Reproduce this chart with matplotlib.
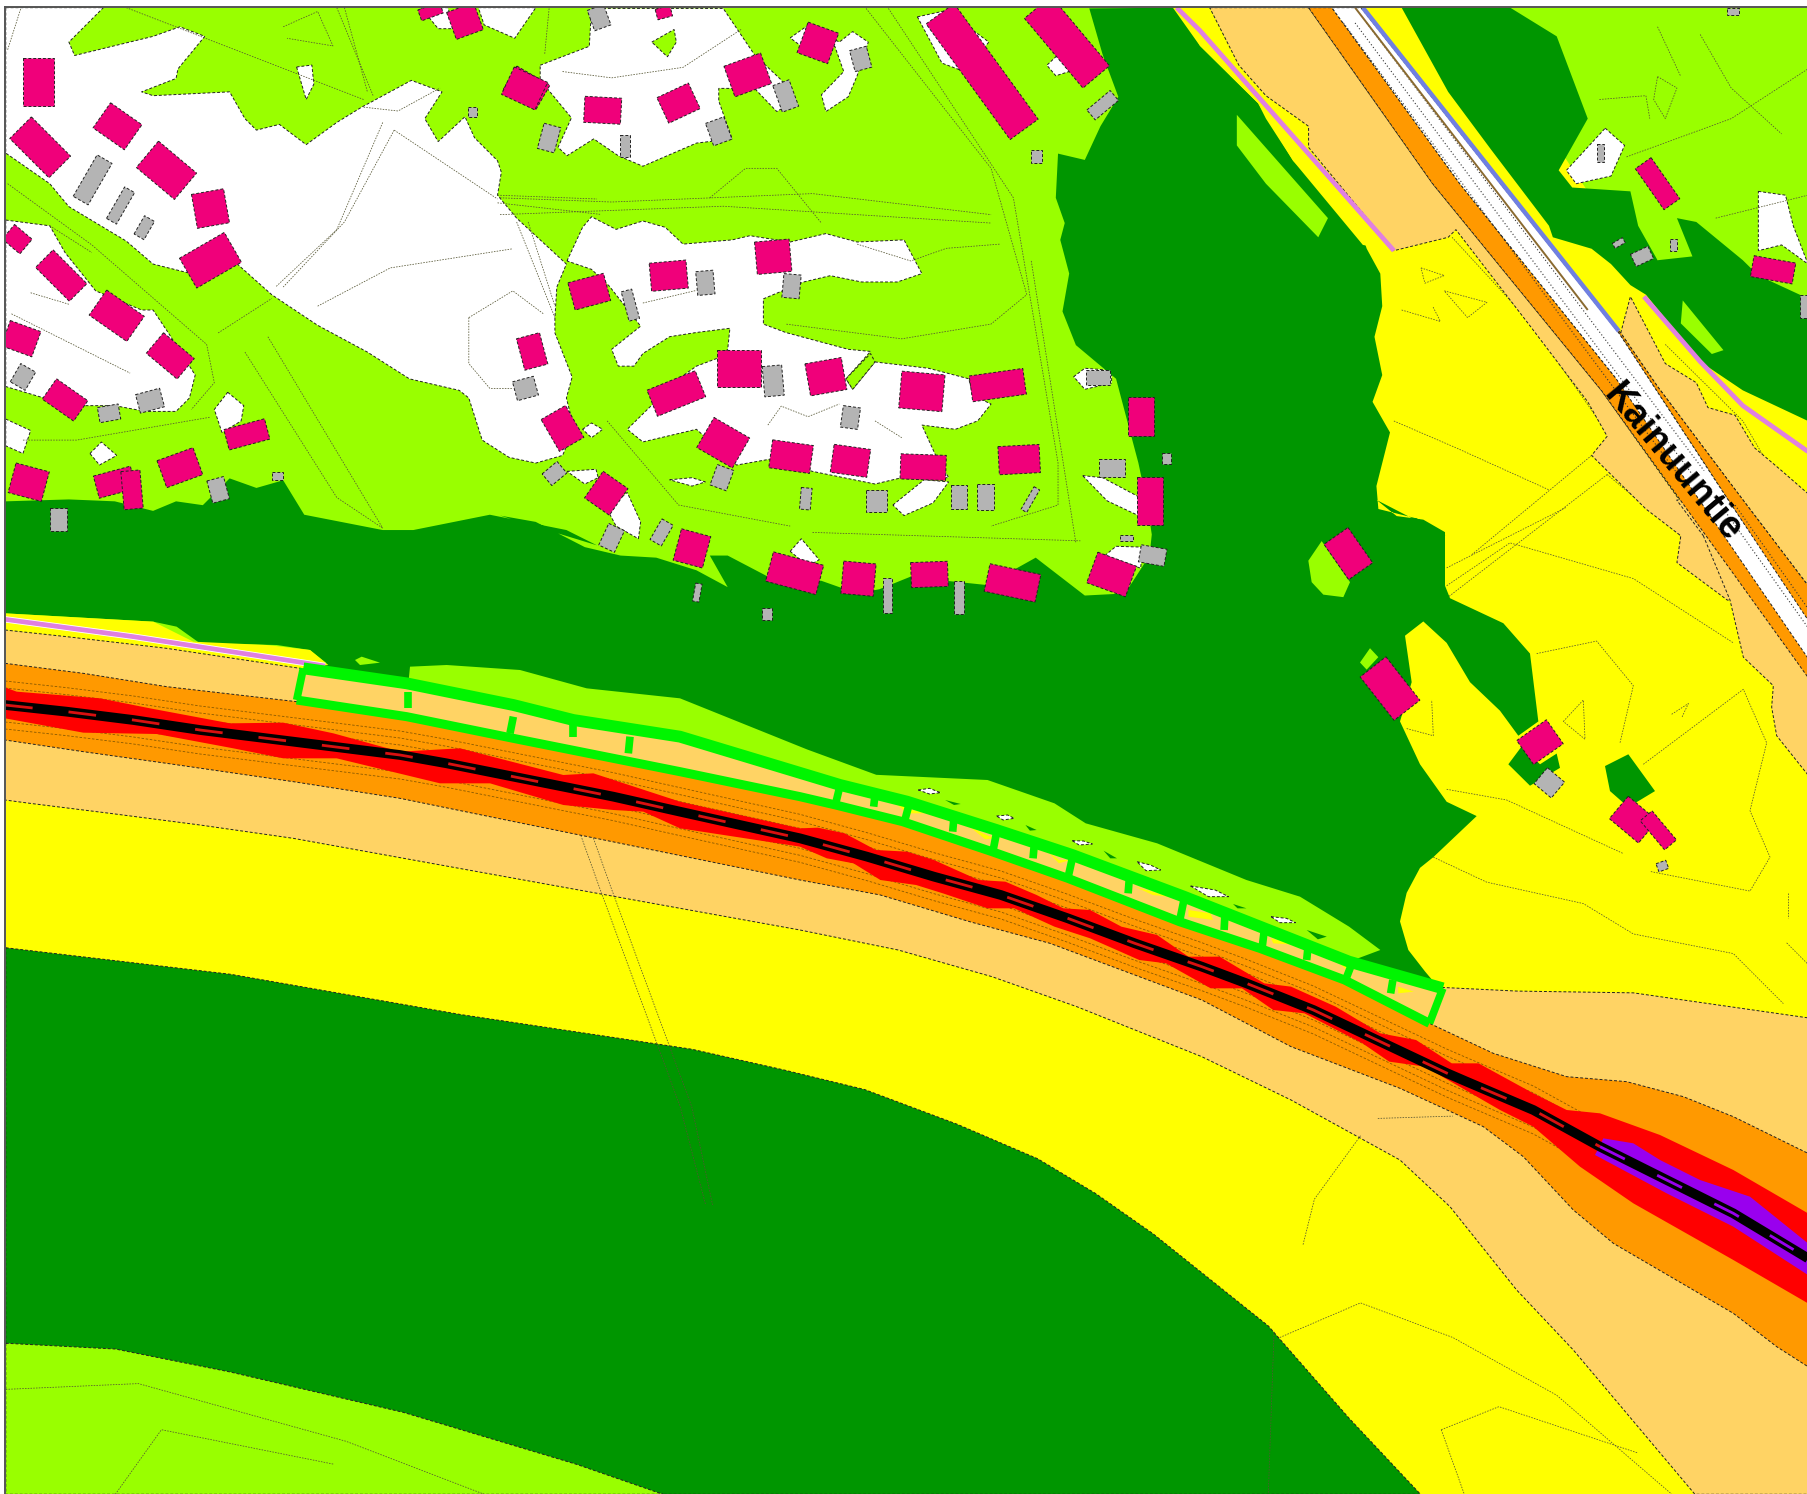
import numpy as np
import matplotlib
matplotlib.use("Agg")
import matplotlib.pyplot as plt
from matplotlib.patches import Polygon

# ---- colour classes of the noise map
DG, LG, YEL, SAND, ORA, RED, PUR = '#009600', '#99FF00', '#FFFF00', '#FFD364', '#FF9900', '#FF0000', '#9900EE'
HOUSE, SHED, BARRIER = '#F0007A', '#B4B4B4', '#00F500'
ROAD_LABEL = 'Kainuuntie'

# ---- read-off frames: (x0, y0, kx, ky)
F1 = (0, 0, 2.613, 2.613)
F2 = (1200, 0, 2.579, 2.613)
F3 = (1400, 950, 3, 3)
F4 = (280, 640, 3, 3)
F5 = (500, 0, 2.24, 2.376)
F6 = (1300, 500, 3, 2.8)
F7 = (0, 580, 3, 3)
F8 = (800, 780, 2.24, 3)
F0 = (0, 0, 1/1.153, 1/1.153)

def c(f, pts):
    return [(f[0] + x / f[2], f[1] + y / f[3]) for x, y in pts]

# ---- whites (unshaded ground)
WHITE_F1 = [
    [(15,20),(270,20),(180,110),(195,145),(400,95),(470,70),(535,95),(465,180),(460,205),(370,240),(400,250),(600,240),(640,310),(670,340),(730,325),(800,378),(880,320),(945,280),(1075,210),(1155,240),(1110,310),(1145,370),(1215,305),(1240,360),(1300,420),(1310,450),(1300,510),(1350,570),(1480,690),(1455,750),(1450,830),(1450,870),(1495,985),(1480,1040),(1500,1120),(1470,1190),(1400,1210),(1330,1195),(1260,1150),(1225,1040),(1200,1020),(1070,990),(960,920),(830,850),(710,770),(620,690),(520,720),(400,690),(330,630),(180,540),(130,480),(15,400)],
    [(15,575),(130,590),(170,660),(250,760),(370,810),(400,810),(440,870),(510,980),(495,1040),(460,1075),(380,1075),(300,1060),(220,1060),(115,1040),(15,1010)],
    [(15,1095),(80,1125),(60,1185),(15,1165)],
    [(595,1025),(637,1060),(630,1100),(580,1130),(560,1070)],
    [(235,1185),(265,1155),(305,1190),(260,1215)],
    [(1100,20),(1170,20),(1190,75),(1145,75)],
    [(1250,20),(1400,20),(1345,100),(1265,65)],
]
WHITE_HOLE_F1 = [[(775,175),(815,170),(820,220),(800,260)]]
WHITE_F5 = [
    [(90,155),(200,110),(205,20),(500,20),(570,130),(630,190),(660,240),(620,265),(570,210),(490,210),(490,240),(520,330),(440,340),(320,395),(265,370),(210,330),(150,370),(130,350),(160,280),(90,190)],
    [(650,90),(690,60),(760,100),(790,75),(825,100),(800,180),(780,230),(730,265),(720,225),(770,170),(750,110),(700,130)],
    [(935,40),(1000,25),(1095,100),(1040,170),(990,150)],
    [(1250,130),(1275,170),(1245,180),(1225,155)],
    [(150,620),(185,540),(205,515),(260,545),(320,525),(370,540),(410,580),(520,570),(560,560),(650,575),(730,555),(800,575),(905,570),(945,650),(890,670),(810,670),(740,655),(680,670),(590,710),(590,770),(640,790),(780,830),(830,835),(775,900),(790,925),(840,860),(960,875),(1050,900),(1060,940),(1100,960),(1070,1000),(1020,1020),(945,1010),(975,1080),(1005,1135),(900,1135),(840,1150),(700,1120),(610,1090),(530,1105),(440,1020),(320,1050),(285,1020),(400,900),(440,870),(490,850),(510,830),(515,780),(440,790),(380,800),(320,840),(300,870),(265,870),(250,830),(315,775),(245,680),(205,640)],
    [(1285,895),(1310,875),(1370,880),(1370,910),(1310,925)],
    [(1305,1130),(1350,1135),(1430,1180),(1430,1225),(1360,1190)],
    [(150,1120),(215,1115),(220,1135),(190,1150)],
    [(380,1140),(430,1135),(460,1145),(430,1155)],
    [(880,1200),(950,1140),(1005,1145),(970,1195),(905,1225)],
    [(240,1210),(285,1170),(315,1240),(310,1280),(260,1250)],
    [(650,1310),(675,1280),(715,1330),(690,1345)],
    [(1355,1320),(1380,1298),(1440,1300),(1435,1350)],
    [(185,1020),(205,1005),(230,1020),(205,1040)],
]
LG_ISLET_F5 = [[(340,100),(390,70),(395,100),(375,135)], [(775,900),(830,840),(840,860),(790,925)]]
WHITE_F2 = [
    [(1045,335),(1095,380),(1060,460),(970,480),(945,445)],
    [(1440,500),(1510,510),(1530,590),(1568,690),(1500,640),(1440,655),(1440,590)],
]

# ---- main dark-green (55-60 dB) forest block, walked clockwise
DG_N_F1 = [(15,1310),(180,1305),(300,1310),(400,1335),(460,1310),(530,1320),(600,1250),(670,1275),(740,1255),(795,1345),(1000,1385),(1080,1385),(1280,1345),(1480,1385),(1560,1425)]
DG_N_F5 = [(0,1225),(80,1240),(190,1300),(270,1320),(350,1325),(440,1355),(510,1395),(470,1320),(510,1320),(600,1370),(720,1380),(800,1410),(850,1400),(920,1370),(1000,1380),(1090,1390),(1200,1325),(1310,1415),(1400,1410),(1455,1320),(1460,1270),(1450,1200),(1430,1100),(1380,900),(1290,820),(1260,740),(1275,650),(1255,570),(1265,530),(1245,470),(1250,365),(1310,380),(1345,300),(1385,230),(1350,130),(1320,20)]
DG_E_F2 = [(-55,20),(0,120),(150,270),(170,310),(240,420),(410,590),(430,650),(465,715),(470,800),(450,880),(470,980),(445,1050),(490,1130),(455,1270),(460,1330),(560,1355),(635,1400)]
DG_E_F6 = [(230,0),(290,45),(370,55),(435,90),(435,240),(450,275),(610,345),(690,430),(715,620),(655,660),(600,590),(510,510),(440,400),(370,340),(315,380),(335,510),(300,620),(360,740),(440,845),(530,885),(400,1000),(360,1030),(320,1100),(300,1180),(325,1260),(375,1320),(420,1370)]
DG_S_F8 = [(1230,545),(1040,445),(860,350),(610,225),(240,65),(90,15)]
DG_S_F4 = [(1200,290),(880,240),(380,130)]
DG_S_F7 = [(905,265),(980,250),(930,210),(830,195),(600,190),(530,140),(460,125),(15,100)]

# ---- north-east corner
LG_NE_F2 = [(770,20),(1568,20),(1568,800),(1300,800),(1000,500),(800,200)]
DG_NE_F2 = [(520,20),(640,240),(750,390),(900,590),(910,620),(1010,650),(1060,690),(1110,745),(1150,770),(1290,945),(1400,1020),(1568,1100),(1568,780),(1440,720),(1400,680),(1280,580),(1230,570),(1270,670),(1180,680),(1130,590),(1110,500),(960,490),(925,445),(1000,310),(920,95),(800,20)]
LG_INSET_F2 = [
    [(95,300),(330,570),(305,620),(170,480),(95,380)],
    [(1245,785),(1350,915),(1320,925),(1240,845)],
]
SAND_NW_F2 = [(25,20),(280,20),(600,480),(1035,1020),(1420,1568),(1360,1568),(1230,1470),(1240,1400),(1150,1330),(1010,1190),(1050,1140),(1000,1050),(850,850),(660,600),(640,620),(500,655),(280,385),(280,330),(170,250),(100,170)]
SAND_W_F6 = [(1210,100),(1290,280),(1330,440),(1420,520),(1415,580),(1430,660),(1524,770),(1540,300),(1300,0),(1130,0)]
ORANGE_W_F2 = [(280,20),(340,20),(670,480),(1070,985),(1362,1306),(1962,2165),(1895,2230),(1035,1020),(600,480)]
WHITE_ROAD_F2 = [(340,20),(415,20),(947,700),(1080,870),(1362,1306),(1568,1620),(1568,1720),(1070,985),(670,480)]
ORANGE_E_F2 = [(940,720),(1085,870),(1180,1010),(1400,1306),(1568,1530),(1568,1630),(1362,1306),(1080,870)]
SAND_E_F2 = [(1085,870),(1110,775),(1200,950),(1280,1000),(1310,1065),(1380,1085),(1430,1170),(1500,1230),(1568,1290),(1568,1530),(1400,1306),(1180,1010)]
BLUE_LINE_F2 = [(420,20),(1080,865)]
BROWN_LINE_F2 = [(400,20),(1000,810)]
PINK_NE_F2 = [(1145,775),(1290,945),(1400,1060),(1568,1180)]
PINK_N_F2 = [(-60,20),(0,80),(500,655)]
YELLOW_N_F2 = [(-70,20),(25,20),(100,170),(170,250),(280,330),(280,385),(500,655),(420,640),(240,420),(150,270),(0,120)]
ROAD_DOTS_F2 = [[(430,60),(1300,1230)],[(400,60),(1270,1240)],[(370,60),(1240,1250)],[(1380,1320),(1568,1590)],[(1350,1330),(1568,1640)]]

# ---- road corridor and bands
SAND_TOP_F7 = [(15,150),(200,170),(500,205),(900,265)]
SAND_TOP_F6 = [(430,1365),(650,1375),(1000,1380),(1524,1450)]
SAND_BOT_F0 = [(1568,1296),(1470,1296)]
SAND_BOT_F3 = [(520,1200),(350,1020),(150,770),(0,630)]
SAND_BOT_F8 = [(1100,960),(900,830),(620,680),(430,590),(220,510),(0,450)]
SAND_BOT_F7 = [(880,775),(600,735),(330,700),(90,670),(15,660)]

ORANGE_TOP_F7 = [(15,250),(250,280),(500,320),(890,365)]
ORANGE_TOP_F3 = [(280,310),(500,380),(680,395),(850,440),(1000,500),(1224,610)]
ORANGE_BOT_F3 = [(1224,1250),(1130,1190),(1000,1090),(640,880),(520,780),(370,620),(250,530),(0,415)]
ORANGE_BOT_F8 = [(1100,800),(900,660),(760,590),(560,490),(380,425),(180,345),(0,300)]
ORANGE_BOT_F7 = [(1200,655),(880,605),(500,550),(250,515),(15,480)]

RED_TOP_F7 = [(15,322),(50,335),(300,355),(450,385),(690,430),(850,428),(1000,460),(1200,515)]
RED_TOP_F4 = [(540,325),(850,405),(940,400),(1200,485)]
RED_TOP_F8 = [(0,145),(40,143),(100,160),(170,210),(240,215),(300,240),(400,300),(460,305),(530,345),(590,385),(650,390),(720,440),(800,465),(870,530),(940,530),(1040,610),(1100,620),(1200,680),(1300,760),(1380,780),(1460,850),(1520,850)]
RED_TOP_F3 = [(400,430),(500,480),(600,490),(780,555),(1000,660),(1224,790)]
RED_BOT_F3 = [(1224,1060),(1000,930),(700,760),(540,650),(400,530),(300,480)]
RED_BOT_F8 = [(1400,860),(1320,845),(1260,790),(1130,700),(1060,690),(990,625),(920,625),(820,550),(760,540),(650,475),(570,440),(480,385),(420,385),(320,340),(260,315),(180,300),(120,250),(60,235),(0,200)]
RED_BOT_F4 = [(1200,565),(1090,515),(1000,510),(850,495),(630,430),(480,430)]
RED_BOT_F7 = [(1010,535),(850,535),(700,505),(470,462),(250,458),(15,415)]

PURPLE_TOP_F3 = [(610,565),(700,580),(780,630),(900,690),(1050,740),(1224,880)]
PURPLE_BOT_F3 = [(1224,975),(1000,830),(800,730),(660,655),(585,615)]

ROAD_F7 = [(15,375),(200,395),(400,420),(600,450),(800,475),(1000,500),(1200,525)]
ROAD_F4 = [(500,370),(700,410),(1000,470),(1200,515)]
ROAD_F8 = [(0,175),(150,230),(300,290),(450,345),(600,415),(750,490),(900,560),(1000,610),(1150,690),(1300,785),(1450,880)]
ROAD_F3 = [(200,395),(400,480),(600,590),(800,690),(1000,790),(1224,925)]

YELLOW_W_F7 = [(15,100),(460,125),(580,185),(800,195),(930,210),(985,255),(900,265),(500,210),(15,150)]
PINK_W_F7 = [(15,118),(400,170),(975,258)]

# ---- noise barrier
RAIL_TOP_F4 = [(70,85),(380,130),(700,195),(880,240),(1200,290)]
RAIL_TOP_F8 = [(90,15),(240,65),(440,150),(610,225),(740,290),(860,350),(1040,445),(1230,545),(1440,625)]
RAIL_BOT_F4 = [(50,180),(380,230),(700,295),(1050,365),(1200,395)]
RAIL_BOT_F8 = [(0,50),(80,75),(230,125),(430,215),(600,295),(850,425),(1030,505),(1220,600),(1410,730)]
RIBS_F8 = [((90,15),(80,70)),((245,70),(235,120)),((440,160),(432,215)),((610,235),(600,295)),((860,360),(850,425)),((1040,450),(1035,505)),((1235,555),(1222,600)),((1440,625),(1410,730))]
RIBS_F4 = [((700,230),(690,280)),((1050,290),(1045,340)),((70,85),(50,180))]
STUBS_F8 = [((168,45),(165,80)),((345,110),(342,155)),((525,190),(522,235)),((738,290),(735,340)),((952,400),(950,450)),((1138,500),(1135,540)),((1328,600),(1323,640))]
STUBS_F4 = [((385,155),(385,205)),((880,245),(880,290))]
LG_STRIP_TOP_F4 = [(385,130),(390,80),(500,75),(720,90),(920,145),(1200,175)]
LG_STRIP_TOP_F0 = [(700,650),(760,672)]
LG_STRIP_TOP_F8 = [(420,0),(570,70),(640,130),(800,190),(1000,300),(1120,350),(1230,440),(1300,510),(1280,520)]
LG_BLOB_F4 = [(225,60),(245,50),(300,68),(240,75)]
SLIVER_WHITE_F8 = [
    [(265,30),(290,25),(315,38),(290,42)],[(440,108),(465,105),(480,115),(455,120)],[(610,182),(635,183),(655,192),(625,195)],
    [(755,245),(785,255),(808,270),(775,272)],[(875,318),(930,330),(960,350),(915,350)],[(1055,410),(1090,415),(1110,428),(1075,428)]]
SLIVER_YELLOW_F8 = [
    [(210,65),(240,85),(280,100),(240,100)],[(380,140),(410,160),(435,175),(415,178)],[(555,215),(580,240),(605,240),(580,250)],
    [(750,320),(790,335),(825,350),(790,345)],[(870,390),(920,400),(925,420),(870,410)],[(1055,475),(1100,490),(1115,495),(1060,490)],[(1195,535),(1225,560),(1225,570)],[(1340,620),(1375,635),(1340,640)]]
SLIVER_DG_F8 = [[(325,60),(360,72),(345,75)],[(505,135),(530,150),(515,152)],[(680,212),(710,235),(695,235)],[(970,372),(1000,385),(980,385)],[(1135,450),(1180,470),(1160,478)]]

# ---- south-west shapes
DG_SOUTH_F0 = [(5,822),(200,845),(400,880),(500,895),(600,910),(680,928),(750,945),(830,975),(900,1005),(950,1035),(1000,1070),(1050,1110),(1100,1150),(1135,1190),(1170,1230),(1232,1296),(5,1296)]
LG_SOUTH_F0 = [(5,1165),(100,1170),(200,1190),(350,1225),(500,1270),(575,1296),(5,1296)]

# ---- small blocks east
DG_BLOCKS_F6 = [[(625,740),(665,690),(720,740),(770,710),(780,750),(690,800)],[(915,745),(985,712),(1065,815),(985,860),(930,815)]]
LG_BLOCKS_F6 = [[(65,115),(150,230),(130,272),(70,265),(35,230),(25,170)],[(210,415),(235,440),(200,475),(180,455)]]

# ---- buildings (cx, cy, long side, short side, angle) in each frame
HOUSES_F1 = [(100,215,80,125,0),(105,385,145,80,45),(307,330,100,80,35),(435,445,130,90,40),(550,545,85,90,-10),(550,680,135,90,-30),(45,625,60,50,40),(160,720,125,65,45),(305,825,120,80,35),(55,885,85,70,20),(445,930,105,70,40),(170,1045,100,65,35),(75,1260,90,80,15),(300,1260,100,60,-15),(345,1280,50,100,-5),(470,1222,100,75,-20),(645,1135,110,55,-15),(1375,230,100,75,30),(1215,55,75,75,-20),(1125,30,60,30,-20)]
HOUSES_F5 = [(55,210,85,70,25),(230,262,85,60,3),(400,245,80,65,-25),(555,178,90,75,-20),(712,102,75,75,20),(367,30,35,25,-15),(1080,170,330,80,54),(1270,100,210,80,50),(378,655,85,65,-5),(612,610,80,75,-5),(200,693,85,65,-15),(72,835,55,75,-15),(395,935,120,65,-22),(535,875,100,85,0),(730,895,85,75,-10),(945,930,100,85,5),(1115,915,125,60,-8),(140,1018,65,85,-30),(500,1052,95,80,30),(652,1085,95,65,8),(785,1095,85,65,8),(948,1110,105,58,2),(1163,1092,95,65,-3),(238,1172,70,75,35),(430,1303,70,75,15),(660,1362,120,70,15),(803,1375,75,75,5),(962,1365,85,58,-2),(1148,1385,120,65,12),(1370,1365,95,75,20),(1435,990,60,90,0),(1455,1190,60,110,0)]
HOUSES_F6 = [(145,150,125,85,55),(270,528,160,95,52),(720,678,105,85,-35),(1000,895,110,85,40),(1075,925,110,45,50)]
HOUSES_F2 = [(1180,480,130,50,55),(1478,705,110,55,10)]
SHEDS_F1 = [(242,470,125,45,-60),(315,537,95,30,-60),(377,595,55,30,-60),(60,985,55,45,-60),(285,1080,55,40,-10),(392,1047,65,50,-15),(570,1280,45,60,-15),(153,1357,45,60,0),(725,1243,30,20,0),(1235,292,25,25,0)]
SHEDS_F5 = [(222,42,40,50,-20),(110,328,40,60,15),(280,347,25,50,0),(490,312,45,55,-20),(640,228,40,65,-20),(808,140,40,50,-15),(1350,250,70,30,-40),(1202,372,25,30,0),(460,672,40,55,-5),(653,680,40,55,5),(292,725,25,70,-15),(57,923,50,45,-15),(612,905,45,70,-5),(785,992,40,50,8),(1340,897,55,35,0),(1370,1112,60,40,0),(685,1185,25,50,5),(843,1190,50,50,0),(1028,1180,35,55,0),(1088,1180,40,60,0),(1188,1187,15,60,30),(497,1135,40,50,20),(122,1125,45,35,-40),(250,1278,40,55,25),(362,1265,30,55,30),(1462,1320,60,40,10),(442,1408,15,42,10),(868,1415,22,80,0),(1028,1420,22,75,0),(1403,1278,30,15,0),(598,1458,24,28,0),(1493,1090,22,26,0)]
SHEDS_F6 = [(748,792,65,60,40),(1087,1025,30,25,-20)]
SHEDS_F2 = [(1033,400,20,45,0),(1080,635,30,15,-30),(1140,670,50,35,-25),(1222,640,18,30,0),(1568,800,40,60,0),(1375,30,30,20,0)]

# ---- thin contour lines
CONTOURS_F1 = [
    [(1000,320),(880,600),(720,750)],[(1030,340),(900,580),(740,750)],[(830,800),(1020,700),(1340,650)],[(20,130),(55,20)],
    [(950,280),(1040,290),(1150,230)],[(1030,340),(1300,520)],[(1350,580),(1450,830)],[(1380,580),(1450,800)],[(1225,830),(1340,760),(1420,820)],
    [(1225,830),(1225,950),(1280,1015),(1340,1015)],[(20,480),(240,640),(540,900),(560,1000),(500,1070)],[(130,590),(240,660)],[(570,870),(710,780)],
    [(640,920),(880,1300),(1000,1380)],[(700,880),(1000,1380)],[(330,20),(950,260)],[(880,20),(975,250)],[(900,20),(960,240)],
    [(60,1150),(200,1150),(550,1090)],[(740,70),(830,30),(870,120),(750,100)],[(1300,510),(1560,520)],[(1300,530),(1568,560)],[(30,820),(340,975)],[(80,765),(180,795)]]
CONTOURS_F5 = [
    [(0,470),(250,480),(700,460),(1100,510)],[(0,510),(500,490),(1100,530)],[(820,20),(1100,400),(1180,700),(1100,770),(900,805),(640,770)],
    [(870,20),(1150,470),(1250,1100),(1250,1200),(1100,1250)],[(700,1265),(1300,1285)],[(240,1000),(400,1200),(650,1250)],[(1190,620),(1290,1290)],
    [(110,20),(100,130)],[(140,170),(250,185),(410,160),(540,70)],[(470,470),(550,400),(620,400),(720,530)],[(800,580),(920,620),(1000,590),(1120,580)],
    [(600,1010),(630,965),(690,990),(760,960)],[(840,1000),(900,1040)],[(320,720),(440,690)]]
CONTOURS_F2 = [
    [(60,40),(300,300),(520,640)],[(150,30),(400,350),(580,630)],[(240,30),(480,300),(560,640)],[(300,340),(460,430),(500,600)],
    [(360,430),(480,520),(530,630)],[(650,620),(850,840),(1050,1130)],[(570,700),(630,720),(580,740),(570,700)],[(630,760),(740,790),(690,830),(630,760)],
    [(520,810),(620,840),(600,800)],[(500,1100),(660,1170),(900,1280)],[(1180,200),(1230,230),(1200,310),(1170,260),(1180,200)],
    [(1030,260),(1150,250),(1160,310)],[(1100,410),(1370,310),(1568,180)],[(1290,90),(1370,230),(1500,350)],[(1180,70),(1240,200)],[(1330,570),(1568,510)],
    [(1010,1190),(700,1450)],[(1050,1240),(640,1560)],[(1050,1240),(1240,1400),(1240,1470)],[(1200,900),(1400,1100),(1568,1390)]]
CONTOURS_F6 = [
    [(440,190),(800,20)],[(440,240),(630,120),(1000,220),(1300,400)],[(710,430),(890,395),(1000,520),(960,680)],
    [(1030,740),(1330,530),(1400,680),(1350,870),(1410,1000),(1350,1095),(1050,1040)],[(440,810),(620,840),(970,990)],
    [(400,1000),(560,1070),(850,1130),(1000,1215),(1300,1270),(1450,1410)],[(790,620),(850,560),(855,670),(790,620)],[(1465,1100),(1465,1170)],
    [(1115,600),(1165,570),(1145,610)],[(320,640),(400,660),(395,560)],[(1460,1240),(1524,1300)]]
CONTOURS_F0 = [
    [(495,700),(520,770),(590,960),(612,1045)],[(505,700),(530,770),(600,960),(618,1045)],[(1105,1155),(1100,1296)],
    [(1110,1160),(1180,1130),(1260,1160),(1350,1210),(1450,1296)],[(1180,985),(1140,1040),(1130,1080)],[(1195,970),(1260,968)],
    [(1250,1240),(1300,1220),(1420,1260)],[(1250,1240),(1270,1296)],
    [(5,1205),(120,1200),(300,1250),(420,1296)],[(100,1296),(140,1240),(290,1270)]]

fig = plt.figure(figsize=(18.08, 14.94), dpi=100)
ax = fig.add_axes([0, 0, 1, 1])
ax.set_xlim(0, 1808)
ax.set_ylim(1494, 0)
ax.axis('off')
clip_box = matplotlib.patches.Rectangle((6, 7), 1802, 1487, transform=ax.transData)

def fill(pts, color, edge=True, z=1):
    p = Polygon(pts, closed=True, facecolor=color, edgecolor='#222222' if edge else 'none',
                linewidth=0.7 if edge else 0, linestyle=(0, (3, 2)) if edge else '-', zorder=z)
    ax.add_patch(p)
    p.set_clip_path(clip_box)

def line(pts, color='#555533', lw=0.55, dash=(2, 1.6), z=3):
    x, y = zip(*pts)
    l, = ax.plot(x, y, color=color, lw=lw, ls=(0, dash) if dash else '-', zorder=z, solid_capstyle='butt')
    l.set_clip_path(clip_box)

def rect(f, cx, cy, w, h, a):
    x, y = c(f, [(cx, cy)])[0]
    k = (f[2] + f[3]) / 2
    w, h = w / k / 2, h / k / 2
    t = np.radians(a)
    cs, sn = np.cos(t), np.sin(t)
    return [(x + u * cs - v * sn, y + u * sn + v * cs) for u, v in ((-w, -h), (w, -h), (w, h), (-w, h))]

# base tints
fill([(6, 7), (1230, 7), (1230, 720), (6, 720)], LG, edge=False, z=1)
fill([(1230, 7), (1808, 7), (1808, 1100), (1230, 1100)], YEL, edge=False, z=1)
fill([(6, 730), (1808, 730), (1808, 1494), (6, 1494)], YEL, edge=False, z=1)
fill(c(F2, LG_NE_F2), LG, edge=False, z=1.5)

for poly in WHITE_F1 + WHITE_HOLE_F1:
    fill(c(F1, poly), 'white', z=2)
for poly in WHITE_F5:
    fill(c(F5, poly), 'white', z=2)
for poly in LG_ISLET_F5:
    fill(c(F5, poly), LG, z=2.1)
for poly in WHITE_F2:
    fill(c(F2, poly), 'white', z=2.1)

for group, f in ((CONTOURS_F1, F1), (CONTOURS_F5, F5), (CONTOURS_F2, F2), (CONTOURS_F6, F6)):
    for pts in group:
        line(c(f, pts), z=2.5)

fill(c(F1, DG_N_F1) + c(F5, DG_N_F5) + c(F2, DG_E_F2) + c(F6, DG_E_F6)
     + c(F8, DG_S_F8) + c(F4, DG_S_F4) + c(F7, DG_S_F7), DG, edge=False, z=4)
fill(c(F2, DG_NE_F2), DG, edge=False, z=4)
for poly in LG_INSET_F2:
    fill(c(F2, poly), LG, edge=False, z=4.2)
for poly in LG_BLOCKS_F6:
    fill(c(F6, poly), LG, edge=False, z=4.2)
for poly in DG_BLOCKS_F6:
    fill(c(F6, poly), DG, edge=False, z=4.2)

# north-east road corridor
fill(c(F2, YELLOW_N_F2), YEL, edge=False, z=4.5)
fill(c(F2, SAND_NW_F2), SAND, z=5)
fill(c(F6, SAND_W_F6), SAND, z=5)
fill(c(F2, SAND_E_F2), SAND, z=5)
fill(c(F2, ORANGE_W_F2), ORA, z=5.3)
fill(c(F2, ORANGE_E_F2), ORA, z=5.3)
fill(c(F2, WHITE_ROAD_F2), 'white', z=5.4)
for pts in ROAD_DOTS_F2:
    line(c(F2, pts), color='#333333', lw=0.8, dash=(1, 2), z=5.5)
line(c(F2, BROWN_LINE_F2), color='#8a6a30', lw=1.4, dash=None, z=5.6)
line(c(F2, BLUE_LINE_F2), color='#7080E0', lw=3.2, dash=None, z=5.7)
line(c(F2, PINK_N_F2), color='#E080E0', lw=3.4, dash=None, z=5.7)
line(c(F2, PINK_NE_F2), color='#E080E0', lw=3.4, dash=None, z=5.7)

# main road corridor
fill(c(F7, YELLOW_W_F7), YEL, edge=False, z=6)
sand_poly = (c(F7, SAND_TOP_F7) + c(F4, RAIL_TOP_F4[1:]) + c(F8, RAIL_TOP_F8) + c(F6, SAND_TOP_F6) + c(F0, SAND_BOT_F0)
             + c(F3, SAND_BOT_F3) + c(F8, SAND_BOT_F8) + c(F7, SAND_BOT_F7))
fill(c(F0, DG_SOUTH_F0), DG, z=6.05)
fill(c(F0, LG_SOUTH_F0), LG, z=6.06)
fill(sand_poly, SAND, z=6.1)
line(c(F7, PINK_W_F7), color='white', lw=4.6, dash=None, z=6.2)
line(c(F7, PINK_W_F7), color='#E080E0', lw=3.4, dash=None, z=6.3)
for pts in CONTOURS_F0:
    line(c(F0, pts), z=6.4)

orange_poly = (c(F7, ORANGE_TOP_F7) + c(F4, RAIL_BOT_F4[1:]) + c(F8, RAIL_BOT_F8) + c(F3, ORANGE_TOP_F3) + c(F3, ORANGE_BOT_F3)
               + c(F8, ORANGE_BOT_F8) + c(F7, ORANGE_BOT_F7))
fill(orange_poly, ORA, z=6.5)
red_poly = (c(F7, RED_TOP_F7) + c(F4, RED_TOP_F4) + c(F8, RED_TOP_F8) + c(F3, RED_TOP_F3) + c(F3, RED_BOT_F3)
            + c(F8, RED_BOT_F8) + c(F4, RED_BOT_F4) + c(F7, RED_BOT_F7))
fill(red_poly, RED, edge=False, z=6.6)
fill(c(F3, PURPLE_TOP_F3) + c(F3, PURPLE_BOT_F3), PUR, edge=False, z=6.7)

road = np.array(c(F7, ROAD_F7) + c(F4, ROAD_F4) + c(F8, ROAD_F8) + c(F3, ROAD_F3))
for offset in (-24, -17, -10, 10, 17, 24):
    line(list(zip(road[:, 0], road[:, 1] + offset)), color='#8a5a00', lw=0.6, dash=(3, 2), z=6.55)
line(list(zip(road[:, 0], road[:, 1])), color='black', lw=7.0, dash=None, z=6.8)
west = road[road[:, 0] <= 1600]
east = road[road[:, 0] >= 1600]
line(list(zip(west[:, 0], west[:, 1])), color='#D81010', lw=2.0, dash=(10, 13), z=6.9)
line(list(zip(east[:, 0], east[:, 1])), color=PUR, lw=2.0, dash=(10, 13), z=6.9)

# strip, barrier
strip_poly = (c(F4, LG_STRIP_TOP_F4) + c(F0, LG_STRIP_TOP_F0) + c(F8, LG_STRIP_TOP_F8)
              + c(F8, RAIL_TOP_F8[:-1][::-1]) + c(F4, RAIL_TOP_F4[1:][::-1]))
fill(strip_poly, LG, edge=False, z=7)
fill(c(F4, LG_BLOB_F4), LG, edge=False, z=7)
for poly in SLIVER_WHITE_F8:
    fill(c(F8, poly), 'white', z=7.1)
for poly in SLIVER_YELLOW_F8:
    fill(c(F8, poly), YEL, edge=False, z=7.1)
for poly in SLIVER_DG_F8:
    fill(c(F8, poly), DG, edge=False, z=7.1)
line(c(F4, RAIL_TOP_F4) + c(F8, RAIL_TOP_F8), color=BARRIER, lw=8.5, dash=None, z=7.5)
line(c(F4, RAIL_BOT_F4) + c(F8, RAIL_BOT_F8), color=BARRIER, lw=6.5, dash=None, z=7.5)
for a, b in RIBS_F8:
    line(c(F8, [a, b]), color=BARRIER, lw=5.5, dash=None, z=7.5)
for a, b in RIBS_F4:
    line(c(F4, [a, b]), color=BARRIER, lw=5.5, dash=None, z=7.5)
for a, b in STUBS_F8:
    line(c(F8, [a, b]), color=BARRIER, lw=5.5, dash=None, z=7.5)
for a, b in STUBS_F4:
    line(c(F4, [a, b]), color=BARRIER, lw=5.5, dash=None, z=7.5)

# buildings
for data, f in ((HOUSES_F1, F1), (HOUSES_F5, F5), (HOUSES_F6, F6), (HOUSES_F2, F2)):
    for h in data:
        fill(rect(f, *h), HOUSE, z=8)
for data, f in ((SHEDS_F1, F1), (SHEDS_F5, F5), (SHEDS_F6, F6), (SHEDS_F2, F2)):
    for h in data:
        fill(rect(f, *h), SHED, z=8)

ax.text(1672, 463, ROAD_LABEL, rotation=-50, rotation_mode='anchor', ha='center', va='center',
        fontsize=27, fontweight='bold', family='Liberation Sans', color='black', zorder=9)

# map frame
ax.plot([5.5, 5.5], [1494, 6.5], color='#555555', lw=1.4, zorder=10)
ax.plot([5.5, 1808], [6.5, 6.5], color='#555555', lw=1.4, zorder=10)

fig.savefig('out.png', dpi=100, facecolor='white')
